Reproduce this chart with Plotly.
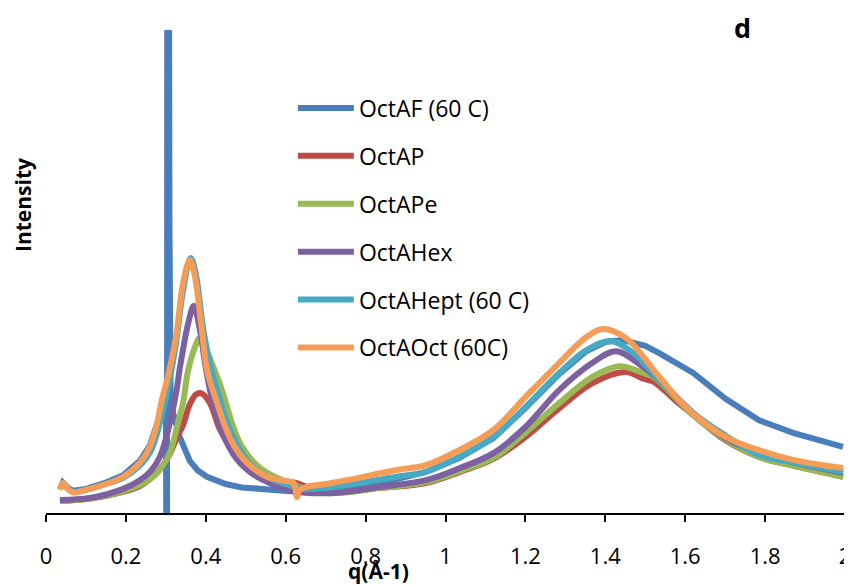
import plotly.graph_objects as go

# ---- data (q in Å^-1, intensity in arbitrary units) ----
q_af = [0.035, 0.042, 0.055, 0.068, 0.10, 0.15, 0.193, 0.235, 0.26, 0.278, 0.295, 0.300,
        0.301, 0.303, 0.3035, 0.3075, 0.309, 0.312, 0.318, 0.325, 0.335, 0.36, 0.38, 0.403,
        0.45, 0.49, 0.586, 0.628, 0.70, 0.80, 0.878, 0.951, 1.034, 1.12, 1.2, 1.285,
        1.352, 1.40, 1.444, 1.50, 1.535, 1.62, 1.702, 1.785, 1.87, 1.995]
i_af = [5.0, 6.3, 5.2, 4.6, 5.0, 6.3, 7.8, 10.8, 14.0, 18.5, 23.0, 24.0,
        0.0, 0.0, 130.0, 130.0, 60.0, 24.0, 20.7, 18.5, 15.7, 10.8, 8.8, 7.5,
        6.0, 5.3, 4.6, 4.4, 4.4, 5.4, 7.0, 8.5, 11.4, 15.5, 21.7, 28.8,
        33.5, 35.4, 35.8, 34.6, 33.1, 29.0, 23.6, 19.2, 16.6, 13.7]

q_p = [0.035, 0.11, 0.193, 0.235, 0.26, 0.285, 0.31, 0.327, 0.343, 0.36, 0.375, 0.388,
       0.41, 0.436, 0.478, 0.528, 0.586, 0.628, 0.65, 0.71, 0.836, 0.951, 1.036, 1.12,
       1.2, 1.285, 1.368, 1.452, 1.495, 1.52, 1.58, 1.62, 1.702, 1.785, 1.87, 1.995]
i_p = [2.5, 3.0, 4.4, 5.6, 7.0, 9.0, 12.2, 15.5, 18.2, 22.5, 24.5, 24.8,
       22.8, 17.2, 11.6, 8.3, 6.8, 6.2, 5.5, 4.3, 5.2, 6.2, 8.5, 11.2,
       15.7, 21.7, 26.9, 29.2, 27.8, 27.2, 23.0, 20.3, 15.0, 11.6, 9.8, 7.5]

q_pe = [0.035, 0.11, 0.193, 0.235, 0.26, 0.285, 0.31, 0.33, 0.343, 0.356, 0.373, 0.384,
        0.40, 0.42, 0.436, 0.453, 0.47, 0.49, 0.52, 0.55, 0.60, 0.63, 0.71, 0.836,
        0.951, 1.036, 1.12, 1.2, 1.285, 1.368, 1.435, 1.495, 1.52, 1.62, 1.702, 1.785,
        1.87, 1.995]
i_pe = [2.5, 3.0, 4.5, 5.8, 7.0, 9.0, 12.4, 18.6, 22.8, 29.6, 34.4, 36.2,
        34.0, 30.0, 26.5, 22.0, 17.5, 13.8, 10.5, 8.5, 6.5, 5.5, 4.1, 5.2,
        6.4, 8.7, 11.4, 16.6, 22.8, 28.2, 30.4, 29.0, 28.2, 20.3, 15.2, 11.6,
        9.8, 7.5]

q_hex = [0.035, 0.11, 0.193, 0.235, 0.26, 0.285, 0.31, 0.327, 0.335, 0.356, 0.37, 0.385,
         0.40, 0.42, 0.44, 0.47, 0.51, 0.56, 0.62, 0.71, 0.836, 0.951, 1.036, 1.12,
         1.2, 1.285, 1.368, 1.427, 1.495, 1.535, 1.62, 1.702, 1.785, 1.87, 1.995]
i_hex = [2.7, 3.1, 5.0, 6.8, 8.5, 11.6, 18.6, 25.5, 30.0, 39.3, 42.9, 38.0,
         30.0, 22.0, 17.0, 12.0, 8.5, 6.2, 4.5, 4.1, 5.4, 6.8, 9.3, 12.4,
         17.8, 25.5, 31.1, 33.5, 30.2, 27.5, 20.7, 15.5, 12.4, 10.5, 8.3]

q_hept = [0.035, 0.042, 0.055, 0.068, 0.10, 0.15, 0.193, 0.235, 0.26, 0.278, 0.29, 0.303,
          0.315, 0.327, 0.343, 0.362, 0.375, 0.392, 0.41, 0.43, 0.45, 0.47, 0.51, 0.56,
          0.60, 0.628, 0.65, 0.70, 0.753, 0.878, 0.951, 1.034, 1.12, 1.2, 1.285, 1.352,
          1.414, 1.47, 1.535, 1.62, 1.702, 1.785, 1.87, 1.995]
i_hept = [5.0, 6.0, 5.0, 4.3, 4.8, 6.0, 7.3, 9.8, 12.5, 16.5, 20.5, 25.0,
          30.0, 36.0, 46.0, 52.8, 49.5, 39.0, 31.0, 25.0, 19.5, 15.5, 10.2, 7.2,
          6.0, 5.3, 5.0, 5.2, 5.8, 7.5, 8.5, 11.6, 15.7, 21.9, 29.0, 33.7,
          35.6, 33.1, 27.5, 20.7, 16.0, 12.0, 10.5, 8.5]

q_oct = [0.035, 0.042, 0.055, 0.068, 0.10, 0.15, 0.193, 0.235, 0.26, 0.278, 0.29, 0.303,
         0.315, 0.327, 0.343, 0.36, 0.372, 0.39, 0.403, 0.428, 0.45, 0.47, 0.503, 0.553,
         0.60, 0.62, 0.628, 0.635, 0.653, 0.70, 0.753, 0.878, 0.951, 1.034, 1.12, 1.2,
         1.285, 1.352, 1.394, 1.452, 1.535, 1.602, 1.702, 1.785, 1.87, 1.995]
i_oct = [4.8, 6.2, 5.0, 4.3, 4.8, 6.0, 7.5, 10.4, 13.7, 18.6, 23.4, 27.5,
         32.0, 37.3, 47.6, 52.4, 49.3, 37.9, 29.6, 22.8, 17.5, 14.0, 10.4, 7.5,
         6.6, 6.2, 3.3, 4.8, 5.4, 6.0, 6.8, 8.9, 9.9, 13.0, 17.2, 24.0,
         31.1, 36.4, 38.1, 36.2, 28.2, 21.9, 15.7, 13.0, 11.0, 9.3]

series = [
    ("OctAF (60 C)", q_af, i_af, "#4A7EBB", "linear"),
    ("OctAP", q_p, i_p, "#BE4B48", "spline"),
    ("OctAPe", q_pe, i_pe, "#98B954", "spline"),
    ("OctAHex", q_hex, i_hex, "#7D60A0", "spline"),
    ("OctAHept (60 C)", q_hept, i_hept, "#46AAC5", "spline"),
    ("OctAOct (60C)", q_oct, i_oct, "#F59D56", "spline"),
]

x_ticks = [0, 0.2, 0.4, 0.6, 0.8, 1, 1.2, 1.4, 1.6, 1.8, 2]
x_tick_text = ["0", "0.2", "0.4", "0.6", "0.8", "1", "1.2", "1.4", "1.6", "1.8", "2"]

FONT = "Open Sans"

fig = go.Figure()
for i, (name, qx, iy, col, shape) in enumerate(series):
    line = dict(color=col, width=6, shape=shape)
    if shape == "spline":
        line["smoothing"] = 1.0
    fig.add_trace(go.Scatter(x=qx, y=iy, mode="lines", name=name,
                             legendgroup=f"g{i}", line=line))

# the page body has an 8px margin; the figure is sized so the plot lands where the reference has it
fig.update_layout(
    width=844, height=577,
    margin=dict(l=38, r=7, t=22, b=72),
    paper_bgcolor="white", plot_bgcolor="white",
    showlegend=True,
    legend=dict(
        x=0.309, y=0.883, xanchor="left", yanchor="top",
        font=dict(family=FONT, size=23, color="black"),
        bgcolor="rgba(0,0,0,0)", itemwidth=56, tracegroupgap=15,
        traceorder="grouped",
    ),
    xaxis=dict(
        range=[0, 2], tickmode="array", tickvals=x_ticks, ticktext=x_tick_text,
        showgrid=False, zeroline=False, showline=True, linecolor="black", linewidth=1.5,
        ticks="outside", ticklen=7, tickwidth=1.5, tickcolor="black",
        tickfont=dict(family=FONT, size=22, color="black"),
        ticklabelstandoff=16, automargin=False,
    ),
    yaxis=dict(
        range=[0, 100], showgrid=False, zeroline=False, showline=False,
        showticklabels=False, ticks="", automargin=False,
    ),
    annotations=[
        dict(text="<b>q(Å-1)</b>", xref="paper", yref="paper", x=(378 - 46) / 799,
             y=(513 - 571) / 483, xanchor="center", yanchor="middle", showarrow=False,
             font=dict(family=FONT, size=21, color="black")),
        dict(text="<b>Intensity</b>", xref="paper", yref="paper", x=(23 - 46) / 799,
             y=(513 - 205) / 483, xanchor="center", yanchor="middle", showarrow=False,
             textangle=-90, font=dict(family=FONT, size=21, color="black")),
        dict(text="<b>d</b>", xref="paper", yref="paper", x=(742 - 46) / 799,
             y=(513 - 28) / 483, xanchor="center", yanchor="middle", showarrow=False,
             font=dict(family=FONT, size=27, color="black")),
    ],
)

fig.write_html("out.html")
